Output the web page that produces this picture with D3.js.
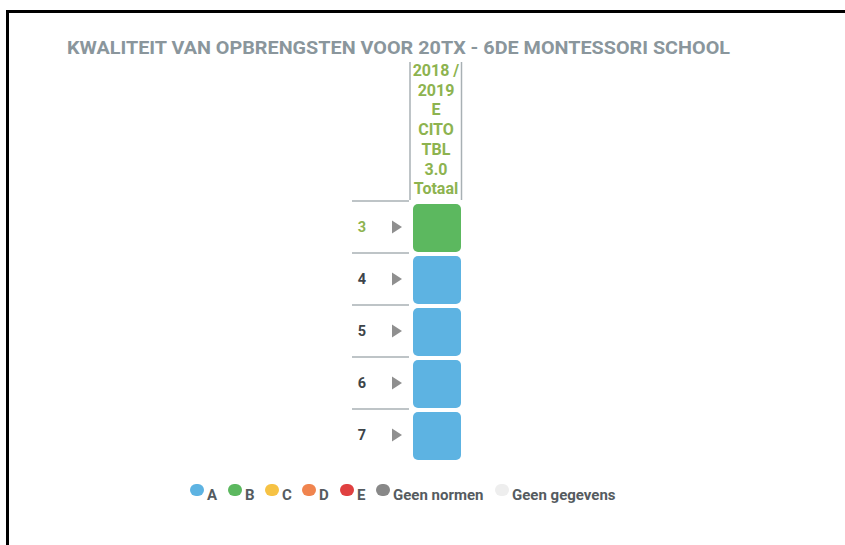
<!DOCTYPE html>
<html><head><meta charset="utf-8">
<script src="https://cdn.jsdelivr.net/npm/d3@7"></script>
<style>body{margin:0;background:#fff;} svg{display:block;}</style>
</head><body>
<svg id="c" width="845" height="545"></svg>
<script>
const title = "KWALITEIT VAN OPBRENGSTEN VOOR 20TX - 6DE MONTESSORI SCHOOL";
const columns = ["2018 / 2019 E CITO TBL 3.0 Totaal"];
const columnLines = [["2018 /","2019","E","CITO","TBL","3.0","Totaal"]];
const rows = ["3","4","5","6","7"];
const values = [["B"],["A"],["A"],["A"],["A"]];
const legendKeys = ["A","B","C","D","E","Geen normen","Geen gegevens"];
const legendColors = ["#5db3e2","#5cb85f","#f6c244","#f0844e","#e04040","#888888","#eeeeee"];

const svg = d3.select("#c");
const color = d3.scaleOrdinal().domain(legendKeys).range(legendColors);

// frame
svg.append("rect").attr("x",7.5).attr("y",11.5).attr("width",860).attr("height",560)
  .attr("fill","none").attr("stroke","#000").attr("stroke-width",3);

svg.append("text").attr("x",67).attr("y",54).text(title)
  .attr("font-family","Roboto").attr("font-weight","bold").attr("font-size",17.5)
  .attr("fill","#8a969c").attr("textLength",663).attr("lengthAdjust","spacingAndGlyphs");

const x = d3.scaleBand().domain(columns).range([410,462]);
const y = d3.scaleBand().domain(rows).range([202,462]);

// header
columns.forEach((c,i)=>{
  const g = svg.append("g");
  g.append("line").attr("x1",x(c)).attr("x2",x(c)).attr("y1",62).attr("y2",200).attr("stroke","#a8b0b4").attr("stroke-width",1.5);
  g.append("line").attr("x1",x(c)+x.bandwidth()-0.5).attr("x2",x(c)+x.bandwidth()-0.5).attr("y1",62).attr("y2",200).attr("stroke","#a8b0b4").attr("stroke-width",1.5);
  g.selectAll("text").data(columnLines[i]).join("text")
    .attr("x",x(c)+x.bandwidth()/2).attr("y",(d,j)=>76+j*19.7)
    .attr("text-anchor","middle").attr("font-family","Roboto").attr("font-weight","bold")
    .attr("font-size",16).attr("fill","#8db34f").text(d=>d);
});

// row separators
svg.selectAll(".sep").data(rows).join("line").attr("class","sep")
  .attr("x1",352).attr("x2",409).attr("y1",d=>y(d)-1).attr("y2",d=>y(d)-1)
  .attr("stroke","#a8b0b4").attr("stroke-width",1.5);

// row labels
svg.selectAll(".rl").data(rows).join("text").attr("class","rl")
  .attr("x",362).attr("y",d=>y(d)+y.bandwidth()/2+3.5).attr("text-anchor","middle")
  .attr("font-family","Roboto").attr("font-weight","bold").attr("font-size",14.5)
  .attr("fill",(d,i)=>i===0?"#8db34f":"#3d4449").text(d=>d);

// triangles
svg.selectAll(".tri").data(rows).join("path").attr("class","tri")
  .attr("d",d=>{const cy=y(d)+y.bandwidth()/2-1; return `M392,${cy-6.5}L402,${cy}L392,${cy+6.5}Z`;})
  .attr("fill","#8f8f8f");

// cells
rows.forEach((r,ri)=>{
  columns.forEach((c,ci)=>{
    svg.append("rect").attr("x",x(c)+3).attr("y",y(r)+2).attr("width",x.bandwidth()-4).attr("height",y.bandwidth()-4)
      .attr("rx",5).attr("fill",color(values[ri][ci]));
  });
});

// legend
const lx = [190,228,265,302,340,376,495];
const lg = svg.selectAll(".lg").data(legendKeys).join("g").attr("class","lg")
  .attr("transform",(d,i)=>`translate(${lx[i]},0)`);
lg.append("rect").attr("x",0).attr("y",484).attr("width",14).attr("height",12).attr("rx",6)
  .attr("fill",d=>color(d));
lg.append("text").attr("x",17).attr("y",500).text(d=>d)
  .attr("font-family","Roboto").attr("font-weight","bold").attr("font-size",15).attr("fill","#555b60");
</script>
</body></html>
